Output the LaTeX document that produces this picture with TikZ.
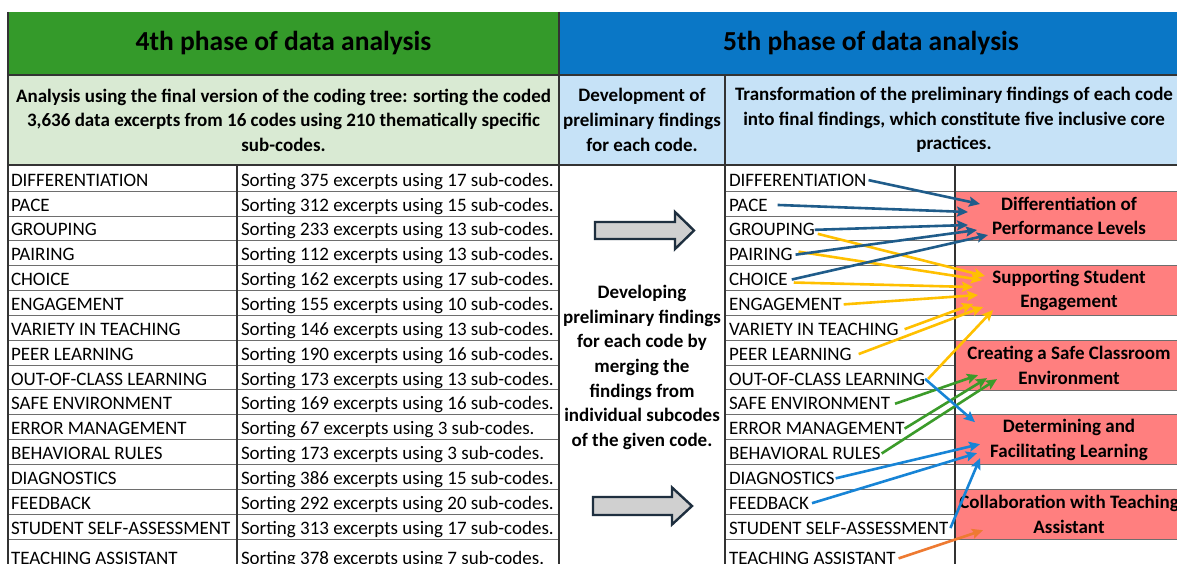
\documentclass[tikz,border=0pt]{standalone}
\usepackage{fontspec}
\setmainfont{Carlito}
\usetikzlibrary{arrows.meta,calc}
\definecolor{hdgreen}{HTML}{349A2A}
\definecolor{hdblue}{HTML}{0A77C6}
\definecolor{lgreen}{HTML}{D9EAD3}
\definecolor{lblue}{HTML}{C6E2F7}
\definecolor{pinkbox}{HTML}{FF7F7F}
\definecolor{gridc}{HTML}{6E6E6E}
\definecolor{adark}{HTML}{1F5C8A}
\definecolor{ayel}{HTML}{FFC000}
\definecolor{agreen}{HTML}{3B9B2A}
\definecolor{ablue}{HTML}{1784D6}
\definecolor{aorange}{HTML}{EE7A31}
\definecolor{barrfill}{HTML}{D0D0D0}
\definecolor{barrline}{HTML}{1E2F3F}
\begin{document}
\begin{tikzpicture}[x=1pt,y=-1pt,
  every node/.style={inner sep=0pt,outer sep=0pt},
  bodytxt/.style={font=\fontsize{19}{24.5}\selectfont},
  bbody/.style={font=\fontsize{19}{24.6}\selectfont\bfseries, align=center},
  phasehead/.style={font=\fontsize{27.5}{33}\selectfont\bfseries},
  cell/.style={bodytxt, anchor=base west},
  gridline/.style={draw=gridc, line width=1pt},
  vgridline/.style={draw=black!80, line width=1.1pt},
  pinkcell/.style={fill=pinkbox, draw=gridc, line width=0.8pt, minimum width=228, minimum height=49.7},
  conn/.style={line width=2.6pt, -{Stealth[length=11pt,width=10pt,inset=2pt]}},
  blockarrow/.style={fill=barrfill, draw=barrline, line width=2.4pt, line join=miter},
]
\clip (0,0) rectangle (1177,564);
\fill[white] (0,0) rectangle (1177,564);
% header backgrounds
\fill[hdgreen] (8,12) rectangle (559,75);
\fill[hdblue] (559,12) rectangle (1190,75);
\fill[lgreen] (8,75) rectangle (559,165);
\fill[lblue] (559,75) rectangle (1190,165);
% row lines
\foreach \i in {1,...,15} {
  \draw[gridline] (8,{166.3+24.85*\i}) -- (559,{166.3+24.85*\i});
  \draw[gridline] (725,{166.3+24.85*\i}) -- (955,{166.3+24.85*\i});
}
% pink boxes
\node[pinkcell, bbody] (p1) at (1069,216.0) {Differentiation of\\Performance Levels};
\node[pinkcell, bbody] (p2) at (1069,290.55) {Supporting Student\\Engagement};
\node[pinkcell, bbody] (p3) at (1069,365.1) {Creating a Safe Classroom\\Environment};
\node[pinkcell, bbody] (p4) at (1069,439.65) {Determining and\\Facilitating Learning};
\node[pinkcell, bbody] (p5) at (1069,514.2) {Collaboration with Teaching\\Assistant};
% frame lines
\draw[vgridline] (8,75) -- (1190,75);
\draw[vgridline] (8,165) -- (1190,165);
\draw[vgridline] (8,12) -- (8,580);
\draw[vgridline] (559,12) -- (559,580);
\draw[vgridline] (725,75) -- (725,580);
\draw[vgridline] (237,165) -- (237,580);
\draw[vgridline] (955,165) -- (955,580);
% header texts
\node[phasehead] (h4) at (283.5,43.5) {4th phase of data analysis};
\node[phasehead] (h5) at (871,43.5) {5th phase of data analysis};
\node[bbody] (d4) at (283.5,120) {Analysis using the final version of the coding tree: sorting the coded\\3,636 data excerpts from 16 codes using 210 thematically specific\\sub-codes.};
\node[bbody] (d5a) at (642,120) {Development of\\preliminary findings\\for each code.};
\node[bbody] (d5b) at (954,120) {Transformation of the preliminary findings of each code\\into final findings, which constitute five inclusive core\\practices.};
\node[bbody] (mid) at (642,367.5) {Developing\\preliminary findings\\for each code by\\merging the\\findings from\\individual subcodes\\of the given code.};
% rows
\foreach \code/\ex/\sc [count=\i from 0] in {DIFFERENTIATION/375/17, PACE/312/15, GROUPING/233/13, PAIRING/112/13, CHOICE/162/17, ENGAGEMENT/155/10, VARIETY IN TEACHING/146/13, PEER LEARNING/190/16, OUT-OF-CLASS LEARNING/173/13, SAFE ENVIRONMENT/169/16, ERROR MANAGEMENT/67/3, BEHAVIORAL RULES/173/3, DIAGNOSTICS/386/15, FEEDBACK/292/20, STUDENT SELF-ASSESSMENT/313/17, TEACHING ASSISTANT/378/7} {
  \pgfmathsetmacro\yb{(\i<15 ? 166.3+24.85*(\i+0.5) : 557)+7.5}
  \node[cell] (L\i) at (11,\yb) {\code};
  \node[cell] (S\i) at (241,\yb) {Sorting \ex\ excerpts using \sc\ sub-codes.};
  \node[cell] (C\i) at (729,\yb) {\code};
}
% block arrows
\draw[blockarrow] (595,222) -- (675,222) -- (675,212) -- (694,230.5) -- (675,249) -- (675,239) -- (595,239) -- cycle;
\draw[blockarrow] (593,497) -- (672,497) -- (672,487.5) -- (692,506) -- (672,524.5) -- (672,515) -- (593,515) -- cycle;
% connectors: yellow
\draw[conn,ayel] ([shift={(3,4)}]C2.east) -- ($(p2.west)+(30,-14.5)$);
\draw[conn,ayel] ([shift={(6,-3)}]C3.east) -- ($(p2.west)+(27,-10.5)$);
\draw[conn,ayel] ([shift={(6,3)}]C4.east) -- ($(p2.west)+(18,-3.5)$);
\draw[conn,ayel] ([xshift=2]C5.east) -- ($(p2.west)+(23,4.5)$);
\draw[conn,ayel] ([xshift=6]C6.east) -- ($(p2.west)+(18,13.5)$);
\draw[conn,ayel] ([xshift=7]C7.east) -- ($(p2.west)+(28,16.5)$);
\draw[conn,ayel] ([xshift=3]C8.east) -- ($(p2.west)+(38,19.5)$);
% dark blue
\draw[conn,adark] ([xshift=2]C0.east) -- ($(p1.west)+(25,-12)$);
\draw[conn,adark] ([xshift=10]C1.east) -- ($(p1.west)+(13,-4)$);
\draw[conn,adark] (C2.east) -- ($(p1.west)+(13,9)$);
\draw[conn,adark] ([xshift=3]C3.east) -- ($(p1.west)+(22,14)$);
\draw[conn,adark] ([xshift=4]C4.east) -- ($(p1.west)+(33,19)$);
% green
\draw[conn,agreen] ([xshift=5]C9.east) -- ($(p3.west)+(23,10)$);
\draw[conn,agreen] (C10.east) -- ($(p3.west)+(32,13)$);
\draw[conn,agreen] ([xshift=1]C11.east) -- ($(p3.west)+(42,14)$);
% blue
\draw[conn,ablue] (C8.east) -- ($(p4.west)+(20,-17.5)$);
\draw[conn,ablue] ([xshift=1]C12.east) -- ($(p4.west)+(25,4.5)$);
\draw[conn,ablue] ([xshift=3]C13.east) -- ($(p4.west)+(22,13.5)$);
\draw[conn,ablue] ([xshift=2]C14.east) -- ($(p4.west)+(25,18.5)$);
% orange
\draw[conn,aorange] ([xshift=3]C15.east) -- ($(p5.west)+(28,16)$);
\end{tikzpicture}
\end{document}
